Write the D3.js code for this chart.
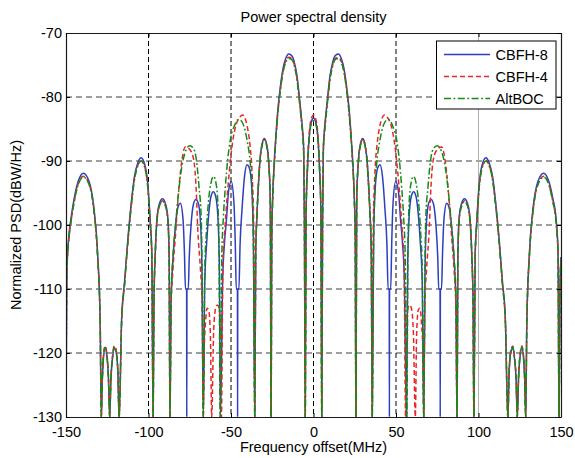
<!DOCTYPE html>
<html><head><meta charset="utf-8">
<script src="https://cdn.jsdelivr.net/npm/d3@7"></script>
<style>
html,body{margin:0;padding:0;background:#fff;}
svg{display:block;font-family:"Liberation Sans",Arial,Helvetica,sans-serif;}
</style></head><body>
<svg id="chart" width="575" height="458"></svg>
<script>
// ---- data (frequency offset MHz, PSD dBW/Hz) ----
const xTicks = [-150,-100,-50,0,50,100,150];
const yTicks = [-130,-120,-110,-100,-90,-80,-70];
const seriesNames = ["CBFH-8","CBFH-4","AltBOC"];

const cbfh8 = [
[-150,-130],[-149.5,-107],[-148,-101],[-147,-99],[-145,-95.8],[-142.5,-93.1],[-139.5,-91.9],[-136,-93.2],[-133,-97.5],[-130.9,-104.2],[-129.3,-115],[-128.6,-130],
[-128,-124.3],[-127.3,-120.8],[-126.3,-119.2],[-125.3,-120.3],[-124.3,-123.8],[-123.5,-130],[-122.8,-124.3],[-121.8,-120.8],[-120.8,-119.2],[-119.8,-119.6],[-118.6,-122.8],[-117.8,-130],
[-116.3,-114.8],[-114.5,-108.8],[-112.5,-102.2],[-110.5,-96.7],[-108.5,-92.4],[-106.5,-90.3],[-104.5,-89.5],[-102,-90.8],[-100.4,-93.7],[-99,-99.2],[-98,-104.3],[-97.2,-130],
[-96.7,-111.8],[-95.9,-104.3],[-94.8,-98.8],[-93.3,-96.6],[-91.5,-95.9],[-89.8,-96.6],[-88.3,-98.8],[-87.5,-104.8],[-87,-130],
[-86.3,-112],[-85.2,-105.5],[-83.8,-100.5],[-82.4,-97.5],[-80.7,-96.6],[-79.1,-99],[-78.2,-104.5],[-77.6,-110],[-76.9,-110],[-76.8,-130],[-76.7,-110],[-75.9,-110],[-75.3,-105],[-74.2,-100],[-72.8,-96.8],[-71.3,-96],[-69.8,-96.6],[-68.5,-99.5],[-67.6,-107],[-66.8,-130],
[-65.9,-109],[-64.8,-103],[-63.5,-98.3],[-62.1,-95.5],[-60.7,-94.8],[-59.3,-95.5],[-58,-98.5],[-57.1,-106],[-56.4,-130],
[-55,-108],[-54,-103],[-52.8,-99.3],[-51.4,-94.6],[-49.8,-93.2],[-48.2,-96.6],[-47.4,-103],[-46.8,-110],[-46.1,-110],[-46,-130],[-45.9,-110],[-45.2,-110],[-44.5,-103],[-43.3,-97.5],[-41.8,-92.4],[-40.3,-90.6],[-39,-91],[-37.6,-93.5],[-36.5,-101],[-35.6,-130],
[-35,-104],[-34.2,-98],[-33.2,-92.8],[-32.2,-89.2],[-31,-87.2],[-29.8,-86.5],[-28.5,-87.3],[-27.2,-90],[-26.2,-96],[-25.7,-130],
[-25.3,-102],[-24.7,-95.3],[-23.8,-90.2],[-22.7,-85.7],[-21.5,-81.7],[-20,-78.2],[-18.5,-75.6],[-17,-74.1],[-15,-73.3],[-13,-73.6],[-11.5,-74.7],[-10,-76.7],[-8.5,-80.2],[-7.5,-82.7],[-6.6,-85.2],[-6,-87.7],[-5.5,-99.7],[-5,-130],
[-4.5,-98.2],[-3.6,-90.8],[-2.4,-85.6],[-1.2,-83.8],
[0,-83.3],[1.2,-83.8],[2.4,-85.6],[3.6,-90.8],[4.5,-98.2],[5,-130],
[5.5,-99.7],[6,-87.7],[6.6,-85.2],[7.5,-82.7],[8.5,-80.2],[10,-76.7],[11.5,-74.7],[13,-73.6],[15,-73.3],[17,-74.1],[18.5,-75.6],[20,-78.2],[21.5,-81.7],[22.7,-85.7],[23.8,-90.2],[24.7,-95.3],[25.3,-102],[25.7,-130],
[26.2,-96],[27.2,-90],[28.5,-87.3],[29.8,-86.5],[31,-87.2],[32.2,-89.2],[33.2,-92.8],[34.2,-98],[35,-104],[35.6,-130],
[36.5,-101],[37.6,-93.5],[39,-91],[40.3,-90.6],[41.8,-92.4],[43.3,-97.5],[44.5,-103],[45.2,-110],[45.9,-110],[46,-130],[46.1,-110],[46.8,-110],[47.4,-103],[48.2,-96.6],[49.8,-93.2],[51.4,-94.6],[52.8,-99.3],[54,-103],[55,-108],[56.4,-130],
[57.1,-106],[58,-98.5],[59.3,-95.5],[60.7,-94.8],[62.1,-95.5],[63.5,-98.3],[64.8,-103],[65.9,-109],[66.8,-130],
[67.6,-107],[68.5,-99.5],[69.8,-96.6],[71.3,-96],[72.8,-96.8],[74.2,-100],[75.3,-105],[75.9,-110],[76.7,-110],[76.8,-130],[76.9,-110],[77.6,-110],[78.2,-104.5],[79.1,-99],[80.7,-96.6],[82.4,-97.5],[83.8,-100.5],[85.2,-105.5],[86.3,-112],[87,-130],
[87.5,-104.8],[88.3,-98.8],[89.8,-96.6],[91.5,-95.9],[93.3,-96.6],[94.8,-98.8],[95.9,-104.3],[96.7,-111.8],[97.2,-130],
[98,-104.3],[99,-99.2],[100.4,-93.7],[102,-90.8],[104.5,-89.5],[106.5,-90.3],[108.5,-92.4],[110.5,-96.7],[112.5,-102.2],[114.5,-108.8],[116.3,-114.8],[117.8,-130],
[118.6,-122.8],[119.8,-119.6],[120.8,-119.2],[121.8,-120.8],[122.8,-124.3],[123.5,-130],[124.3,-123.8],[125.3,-120.3],[126.3,-119.2],[127.3,-120.8],[128,-124.3],[128.6,-130],
[129.3,-115],[130.9,-104.2],[133,-97.5],[136,-93.2],[139.5,-91.9],[142.5,-93.1],[145,-95.8],[147,-99],[148.2,-104],[148.8,-130],[149.4,-110],[150,-105]
];

const cbfh4 = [
[-150,-130],[-149.5,-107.5],[-148,-101.5],[-147,-99.5],[-145,-96.3],[-142.5,-93.5],[-139.5,-92.4],[-136,-93.6],[-133,-97.9],[-130.9,-104.6],[-129.3,-115],[-128.6,-130],
[-128,-124],[-127.3,-120.4],[-126.3,-118.9],[-125.3,-120],[-124.3,-123.5],[-123.5,-130],[-122.8,-124],[-121.8,-120.5],[-120.8,-118.9],[-119.8,-119.3],[-118.6,-122.5],[-117.8,-130],
[-116.3,-115.2],[-114.5,-109.2],[-112.5,-102.6],[-110.5,-97.1],[-108.5,-92.8],[-106.5,-90.7],[-104.5,-89.9],[-102,-91.2],[-100.4,-94.1],[-99,-99.6],[-98,-104.6],[-97.2,-130],
[-96.7,-112.2],[-95.9,-104.6],[-94.8,-99.1],[-93.3,-96.9],[-91.5,-96.2],[-89.8,-96.9],[-88.3,-99.1],[-87.5,-105],[-87,-130],
[-86.3,-113],[-85.2,-107],[-83.7,-101.8],[-82.3,-96.6],[-80.7,-91.9],[-79.7,-89.8],[-77.7,-87.8],[-75,-88.2],[-72.6,-89.8],[-71,-95],[-70.2,-100.3],[-68.5,-107],[-67.5,-112],[-66.8,-130],
[-66.3,-120],[-65.5,-115.5],[-64.5,-113],[-63.5,-113.3],[-62.5,-117],[-61.7,-130],
[-60.5,-116.5],[-59.3,-113],[-58.2,-112.5],[-57.2,-113],[-56.3,-116],[-55.8,-130],
[-54.9,-106],[-53.8,-101],[-52.4,-95.8],[-51,-91.6],[-49,-87],[-47,-84.4],[-44.8,-83.2],[-43,-82.8],[-41.7,-83.2],[-40,-84.8],[-38.5,-87.5],[-37.2,-92],[-36.2,-100.5],[-35.6,-130],
[-35,-104],[-34.2,-98],[-33.2,-92.8],[-32.2,-89.2],[-31,-87.2],[-29.8,-86.6],[-28.5,-87.4],[-27.2,-90.1],[-26.2,-96],[-25.7,-130],
[-25.3,-102],[-24.7,-95.6],[-23.8,-90.6],[-22.7,-86.1],[-21.5,-82.1],[-20,-78.6],[-18.5,-76],[-17,-74.5],[-15,-73.8],[-13,-74],[-11.5,-75.1],[-10,-77.1],[-8.5,-80.6],[-7.5,-83.1],[-6.6,-85.6],[-6,-88],[-5.5,-100],[-5,-130],
[-4.5,-97.8],[-3.6,-90.3],[-2.4,-85.1],[-1.2,-83.3],
[0,-82.8],[1.2,-83.3],[2.4,-85.1],[3.6,-90.3],[4.5,-97.8],[5,-130],
[5.5,-100],[6,-88],[6.6,-85.6],[7.5,-83.1],[8.5,-80.6],[10,-77.1],[11.5,-75.1],[13,-74],[15,-73.8],[17,-74.5],[18.5,-76],[20,-78.6],[21.5,-82.1],[22.7,-86.1],[23.8,-90.6],[24.7,-95.6],[25.3,-102],[25.7,-130],
[26.2,-96],[27.2,-90.1],[28.5,-87.4],[29.8,-86.6],[31,-87.2],[32.2,-89.2],[33.2,-92.8],[34.2,-98],[35,-104],[35.6,-130],
[36.2,-100.5],[37.2,-92],[38.5,-87.5],[40,-84.8],[41.7,-83.2],[43,-82.8],[44.8,-83.2],[47,-84.4],[49,-87],[51,-91.6],[52.4,-95.8],[53.8,-101],[54.9,-106],[55.8,-130],
[56.3,-116],[57.2,-113],[58.2,-112.5],[59.3,-113],[60.5,-116.5],[61.7,-130],
[62.5,-117],[63.5,-113.3],[64.5,-113],[65.5,-115.5],[66.3,-120],[66.8,-130],
[67.5,-112],[68.5,-107],[70.2,-100.3],[71,-95],[72.6,-89.8],[75,-88.2],[77.7,-87.8],[79.7,-89.8],[80.7,-91.9],[82.3,-96.6],[83.7,-101.8],[85.2,-107],[86.3,-113],[87,-130],
[87.5,-105],[88.3,-99.1],[89.8,-96.9],[91.5,-96.2],[93.3,-96.9],[94.8,-99.1],[95.9,-104.6],[96.7,-112.2],[97.2,-130],
[98,-104.6],[99,-99.6],[100.4,-94.1],[102,-91.2],[104.5,-89.9],[106.5,-90.7],[108.5,-92.8],[110.5,-97.1],[112.5,-102.6],[114.5,-109.2],[116.3,-115.2],[117.8,-130],
[118.6,-122.5],[119.8,-119.3],[120.8,-118.9],[121.8,-120.5],[122.8,-124],[123.5,-130],[124.3,-123.5],[125.3,-120],[126.3,-118.9],[127.3,-120.4],[128,-124],[128.6,-130],
[129.3,-115],[130.9,-104.6],[133,-97.9],[136,-93.6],[139.5,-92.4],[142.5,-93.5],[145,-96.3],[147,-99.5],[148.2,-104.5],[148.8,-130],[149.4,-110.5],[150,-105.5]
];

const altboc = [
[-150,-130],[-149.5,-107.5],[-148,-101.5],[-147,-99.5],[-145,-96.3],[-142.5,-93.6],[-139.5,-92.5],[-136,-93.7],[-133,-98],[-130.9,-104.6],[-129.3,-115.2],[-128.6,-130],
[-128,-124.2],[-127.3,-120.6],[-126.3,-119.1],[-125.3,-120.2],[-124.3,-123.7],[-123.5,-130],[-122.8,-124.2],[-121.8,-120.7],[-120.8,-119.1],[-119.8,-119.5],[-118.6,-122.7],[-117.8,-130],
[-116.3,-115.3],[-114.5,-109.3],[-112.5,-102.7],[-110.5,-97.2],[-108.5,-92.9],[-106.5,-90.8],[-104.5,-90],[-102,-91.3],[-100.4,-94.2],[-99,-99.7],[-98,-104.7],[-97.2,-130],
[-96.7,-112.3],[-95.9,-104.7],[-94.8,-99.2],[-93.3,-97],[-91.5,-96.3],[-89.8,-97],[-88.3,-99.2],[-87.5,-105.1],[-87,-130],
[-86.3,-111],[-85.2,-105],[-83.6,-100],[-82.2,-96],[-80.7,-92.5],[-79.3,-90.2],[-77.3,-88.3],[-75,-87.6],[-72.8,-88],[-71,-89.8],[-69.4,-94],[-68,-99.2],[-67.5,-108],[-66.8,-130],
[-65.9,-107],[-64.9,-101],[-63.6,-96.2],[-62.2,-93.5],[-60.6,-92.4],[-59,-93.6],[-57.9,-97],[-57.2,-105],[-56.6,-130],
[-55.6,-105],[-54.6,-98.7],[-53.4,-94],[-52,-89.8],[-50.4,-86.7],[-47.8,-84.4],[-45.3,-83.5],[-42.9,-84.1],[-40.3,-86.7],[-38.3,-90.4],[-37.3,-94],[-36.3,-106],[-35.6,-130],
[-35,-104.2],[-34.2,-98.2],[-33.2,-93],[-32.2,-89.4],[-31,-87.4],[-29.8,-86.7],[-28.5,-87.5],[-27.2,-90.2],[-26.2,-96.2],[-25.7,-130],
[-25.3,-102.2],[-24.7,-95.8],[-23.8,-90.8],[-22.7,-86.3],[-21.5,-82.3],[-20,-78.8],[-18.5,-76.2],[-17,-74.7],[-15,-74],[-13,-74.2],[-11.5,-75.3],[-10,-77.3],[-8.5,-80.8],[-7.5,-83.3],[-6.6,-85.8],[-6,-88.2],[-5.5,-100.2],[-5,-130],
[-4.5,-98.4],[-3.6,-91],[-2.4,-85.8],[-1.2,-84.1],
[0,-83.7],[1.2,-84.1],[2.4,-85.8],[3.6,-91],[4.5,-98.4],[5,-130],
[5.5,-100.2],[6,-88.2],[6.6,-85.8],[7.5,-83.3],[8.5,-80.8],[10,-77.3],[11.5,-75.3],[13,-74.2],[15,-74],[17,-74.7],[18.5,-76.2],[20,-78.8],[21.5,-82.3],[22.7,-86.3],[23.8,-90.8],[24.7,-95.8],[25.3,-102.2],[25.7,-130],
[26.2,-96.2],[27.2,-90.2],[28.5,-87.5],[29.8,-86.7],[31,-87.4],[32.2,-89.4],[33.2,-93],[34.2,-98.2],[35,-104.2],[35.6,-130],
[36.3,-106],[37.3,-94],[38.3,-90.4],[40.3,-86.7],[42.9,-84.1],[45.3,-83.5],[47.8,-84.4],[50.4,-86.7],[52,-89.8],[53.4,-94],[54.6,-98.7],[55.6,-105],[56.6,-130],
[57.2,-105],[57.9,-97],[59,-93.6],[60.6,-92.4],[62.2,-93.5],[63.6,-96.2],[64.9,-101],[65.9,-107],[66.8,-130],
[67.5,-108],[68,-99.2],[69.4,-94],[71,-89.8],[72.8,-88],[75,-87.6],[77.3,-88.3],[79.3,-90.2],[80.7,-92.5],[82.2,-96],[83.6,-100],[85.2,-105],[86.3,-111],[87,-130],
[87.5,-105.1],[88.3,-99.2],[89.8,-97],[91.5,-96.3],[93.3,-97],[94.8,-99.2],[95.9,-104.7],[96.7,-112.3],[97.2,-130],
[98,-104.7],[99,-99.7],[100.4,-94.2],[102,-91.3],[104.5,-90],[106.5,-90.8],[108.5,-92.9],[110.5,-97.2],[112.5,-102.7],[114.5,-109.3],[116.3,-115.3],[117.8,-130],
[118.6,-122.7],[119.8,-119.5],[120.8,-119.1],[121.8,-120.7],[122.8,-124.2],[123.5,-130],[124.3,-123.7],[125.3,-120.2],[126.3,-119.1],[127.3,-120.6],[128,-124.2],[128.6,-130],
[129.3,-115.2],[130.9,-104.6],[133,-98],[136,-93.7],[139.5,-92.5],[142.5,-93.6],[145,-96.3],[147,-99.5],[148.2,-104.5],[148.8,-130],[149.4,-110.5],[150,-105.5]
];

// ---- drawing ----
const svg = d3.select("#chart");
const PL = 66, PR = 561, PT = 33, PB = 417;
const x = d3.scaleLinear().domain([-150,150]).range([PL,PR]);
const y = d3.scaleLinear().domain([-130,-70]).range([PB,PT]);
const FS = "14.5px";
const FF = '"Liberation Sans",Arial,sans-serif';
const fmt = d => String(d); // plain hyphen-minus like the original

svg.append("rect").attr("width",575).attr("height",458).attr("fill","#fff");

svg.append("defs").append("clipPath").attr("id","clip")
  .append("rect").attr("x",PL).attr("y",PT).attr("width",PR-PL).attr("height",PB-PT);

// grid
const grid = svg.append("g");
grid.selectAll("line.h").data(yTicks.filter(v=>v>-130 && v<-70)).join("line")
  .attr("class","h")
  .attr("x1",PL).attr("x2",PR).attr("y1",d=>y(d)).attr("y2",d=>y(d))
  .attr("stroke","#7f7f7f").attr("stroke-width",1.3).attr("stroke-dasharray","6,4");
grid.selectAll("line.v").data(xTicks.filter(v=>v>-150 && v<100)).join("line")
  .attr("class","v")
  .attr("x1",d=>x(d)).attr("x2",d=>x(d)).attr("y1",PT).attr("y2",PB)
  .attr("stroke","#000").attr("stroke-width",1).attr("stroke-dasharray","5,3");
grid.append("line").attr("x1",x(100)).attr("x2",x(100)).attr("y1",PT).attr("y2",PB)
  .attr("stroke","#b0b0b0").attr("stroke-width",1);

// curves
const line = d3.line().x(d=>x(d[0])).y(d=>y(d[1])).curve(d3.curveMonotoneX);
const styles = [
  {data:cbfh8, color:"#2b3fbf", dash:null, w:1.5},
  {data:cbfh4, color:"#e8262a", dash:"5,3", w:1.5},
  {data:altboc, color:"#128c12", dash:"7,2.5,1.8,2.5", w:1.5}
];
const curves = svg.append("g").attr("clip-path","url(#clip)");
styles.forEach(s=>{
  curves.append("path").attr("d",line(s.data)).attr("fill","none")
    .attr("stroke",s.color).attr("stroke-width",s.w)
    .attr("stroke-dasharray",s.dash).attr("stroke-linejoin","round");
});

// axes
const ax = svg.append("g");
const gBottom = ax.append("g").attr("transform",`translate(0,${PB})`)
  .call(d3.axisBottom(x).tickValues(xTicks).tickFormat(fmt).tickSize(-4).tickSizeOuter(0).tickPadding(9.5));
const gLeft = ax.append("g").attr("transform",`translate(${PL},0)`)
  .call(d3.axisLeft(y).tickValues(yTicks).tickFormat(fmt).tickSize(-4).tickSizeOuter(0).tickPadding(4));
const gTop = ax.append("g").attr("transform",`translate(0,${PT})`)
  .call(d3.axisTop(x).tickValues(xTicks).tickSize(-4).tickSizeOuter(0).tickFormat(""));
const gRight = ax.append("g").attr("transform",`translate(${PR},0)`)
  .call(d3.axisRight(y).tickValues(yTicks).tickSize(-4).tickSizeOuter(0).tickFormat(""));
[gBottom,gLeft,gTop,gRight].forEach(g=>{
  g.select(".domain").attr("stroke","#1a1a1a").attr("stroke-width",1.2);
  g.selectAll(".tick line").attr("stroke","#000");
  g.selectAll("text").attr("font-size",FS).attr("fill","#000").attr("font-family",FF);
});

// titles
svg.append("text").attr("x",(PL+PR)/2).attr("y",22).attr("text-anchor","middle")
  .attr("font-family",FF).attr("font-size",FS).text("Power spectral density");
svg.append("text").attr("x",(PL+PR)/2).attr("y",452).attr("text-anchor","middle")
  .attr("font-family",FF).attr("font-size",FS).text("Frequency offset(MHz)");
svg.append("text").attr("transform",`translate(20.5,${(PT+PB)/2}) rotate(-90)`)
  .attr("text-anchor","middle").attr("font-family",FF).attr("font-size",FS)
  .text("Normalized PSD(dBW/Hz)");

// legend
const lg = svg.append("g");
lg.append("rect").attr("x",436.5).attr("y",41).attr("width",119.5).attr("height",68)
  .attr("fill","#fff").attr("stroke","#000").attr("stroke-width",1);
styles.forEach((s,i)=>{
  const yy = 54.5 + i*22;
  lg.append("line").attr("x1",444).attr("x2",490).attr("y1",yy).attr("y2",yy)
    .attr("stroke",s.color).attr("stroke-width",s.w).attr("stroke-dasharray",s.dash);
  lg.append("text").attr("x",495.5).attr("y",yy+5.2).attr("font-family",FF)
    .attr("font-size",FS).text(seriesNames[i]);
});
</script>
</body></html>
